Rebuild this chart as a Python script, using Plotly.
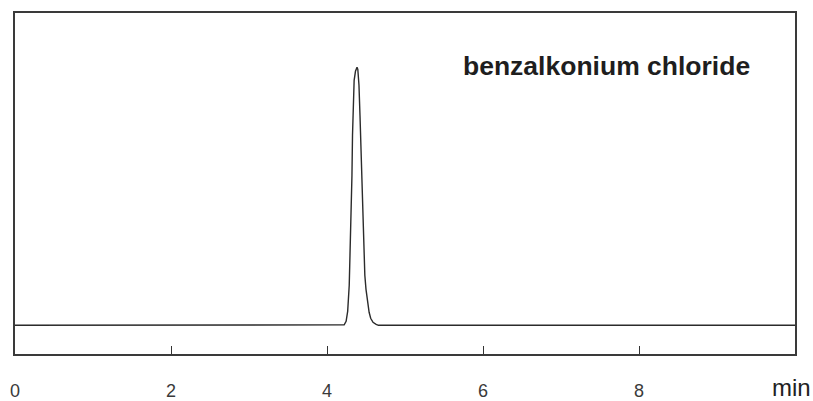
import plotly.graph_objects as go

# Retention time (min) and detector response (arbitrary units) of the chromatogram trace
time_min = [0.0, 4.20, 4.22, 4.245, 4.265, 4.285, 4.300, 4.312, 4.320, 4.327, 4.335,
            4.348, 4.365, 4.385, 4.395, 4.410, 4.423, 4.435, 4.447, 4.458, 4.470,
            4.485, 4.500, 4.520, 4.540, 4.560, 4.590, 4.630, 4.660, 10.0]
signal = [0, 0, 0.5, 4, 14, 40, 80, 115, 150, 190, 225,
          245, 254, 258, 256, 240, 210, 180, 140, 100, 72,
          50, 36, 24, 13, 7, 3, 1, 0, 0]

tick_values = [0, 2, 4, 6, 8]
tick_labels = ["0", "2", "4", "6", "8"]
compound = "benzalkonium chloride"
unit_label = "min"

fig = go.Figure()
fig.add_trace(go.Scatter(
    x=time_min, y=signal, mode="lines",
    line=dict(color="#2b2b2b", width=1.4),
    hoverinfo="skip", showlegend=False,
))

fig.add_annotation(
    x=0.572, y=0.846, xref="paper", yref="paper",
    text=f"<b>{compound}</b>", showarrow=False, xanchor="left", yanchor="middle",
    font=dict(family="Liberation Sans, Arial, sans-serif", size=26.5, color="#1e1e1e"),
)
fig.add_annotation(
    x=0.995, y=-0.097, xref="paper", yref="paper",
    text=unit_label, showarrow=False, xanchor="center", yanchor="middle",
    font=dict(family="Liberation Sans, Arial, sans-serif", size=24, color="#222222"),
)

fig.update_layout(
    width=813, height=401,
    margin=dict(l=15, r=18, t=13, b=47),
    paper_bgcolor="white", plot_bgcolor="white",
    xaxis=dict(
        range=[0, 10], tickvals=tick_values, ticktext=tick_labels,
        ticks="inside", ticklen=8, tickwidth=1.2, tickcolor="#333333",
        showgrid=False, zeroline=False, automargin=False,
        showline=True, linecolor="#3a3a3a", linewidth=1.6, mirror=True,
        ticklabelstandoff=20,
        tickfont=dict(family="Liberation Sans, Arial, sans-serif", size=18, color="#3a3a3a"),
    ),
    yaxis=dict(
        range=[-28.7, 312.3], showticklabels=False, ticks="",
        showgrid=False, zeroline=False, automargin=False,
        showline=True, linecolor="#3a3a3a", linewidth=1.6, mirror=True,
    ),
)

fig.write_html("out.html")
